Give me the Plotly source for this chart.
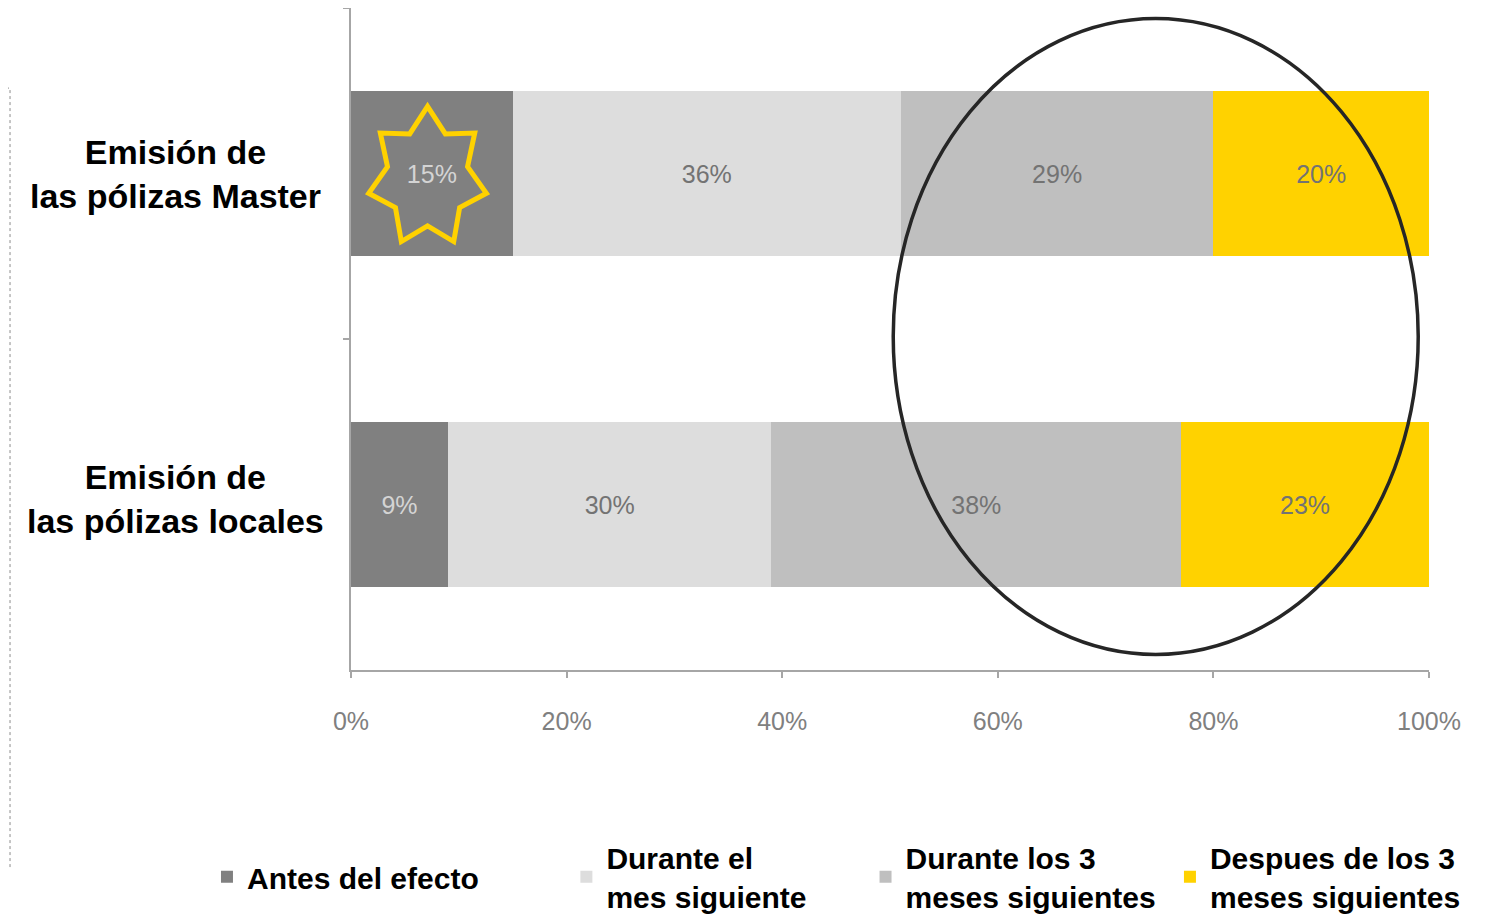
import math
import plotly.graph_objects as go

categories = ["Emisión de<br>las pólizas Master", "Emisión de<br>las pólizas locales"]
series_names = [
    "Antes del efecto",
    "Durante el<br>mes siguiente",
    "Durante los 3<br>meses siguientes",
    "Despues de los 3<br>meses siguientes",
]
antes = [15, 9]
mes_siguiente = [36, 30]
tres_meses = [29, 38]
despues = [20, 23]
x_ticks = [0, 20, 40, 60, 80, 100]

series_values = [antes, mes_siguiente, tres_meses, despues]
colors = ["#808080", "#DDDDDD", "#BFBFBF", "#FFD200"]
text_colors = ["#D4D4D4", "#737373", "#737373", "#737373"]
legend_ids = ["legend", "legend2", "legend3", "legend4"]
legend_x = [-0.1336, 0.1998, 0.4773, 0.7597]

font_reg = "Liberation Sans, Arial, sans-serif"

fig = go.Figure()
for name, vals, col, tcol, lg in zip(series_names, series_values, colors, text_colors, legend_ids):
    fig.add_trace(go.Bar(
        x=vals,
        y=categories,
        orientation="h",
        name=name,
        legend=lg,
        marker=dict(color=col, line=dict(width=0)),
        text=[f"{v}%" for v in vals],
        textposition="inside",
        insidetextanchor="middle",
        textfont=dict(family=font_reg, size=25, color=tcol),
    ))

# category labels, centred in the left margin
for cat, shift in zip(categories, [0, 6]):
    fig.add_annotation(
        x=-0.163, xref="paper", y=cat, yref="y", yshift=shift,
        text=f"<b>{cat}</b>", showarrow=False, xanchor="center", align="center",
        font=dict(family=font_reg, size=34, color="black"),
    )

# ellipse highlighting the later periods
fig.add_shape(type="circle", xref="x", yref="y",
              x0=50.3, x1=99.0, y0=-0.468, y1=1.453,
              line=dict(color="#262626", width=3.5))

# seven-pointed star around the first value
cx, cy, rx, ry, inner = 7.1, 0.012, 5.6, 0.215, 0.68
pts = []
for k in range(14):
    ang = math.pi / 2 + k * math.pi / 7
    r = 1.0 if k % 2 == 0 else inner
    pts.append((cx + rx * r * math.cos(ang), cy - ry * r * math.sin(ang)))
path = "M " + " L ".join(f"{px:.3f},{py:.4f}" for px, py in pts) + " Z"
fig.add_shape(type="path", xref="x", yref="y", path=path,
              line=dict(color="#FFD200", width=5))

# dotted frame edge on the far left
fig.add_shape(type="path", xref="paper", yref="paper",
              path="M -0.3256,0.879 L -0.3163,0.879 L -0.3163,-0.302",
              line=dict(color="#8C8C8C", width=1, dash="dot"))

legend_font = dict(family=font_reg, size=30, color="black", weight="bold")
legends = {}
for lg, lx in zip(legend_ids, legend_x):
    legends[lg] = dict(
        orientation="h", x=lx, xanchor="left",
        yref="container", y=0.041, yanchor="middle",
        font=legend_font, bgcolor="rgba(0,0,0,0)",
    )

fig.update_layout(
    width=1491, height=906,
    margin=dict(l=343, r=70, t=0, b=244),
    barmode="stack",
    bargap=0.5,
    plot_bgcolor="white",
    paper_bgcolor="white",
    showlegend=True,
    xaxis=dict(
        range=[0, 100],
        tickvals=x_ticks,
        ticktext=[f"{t}%" for t in x_ticks],
        showgrid=False, zeroline=False,
        showline=True, linecolor="#A6A6A6", linewidth=2,
        ticks="outside", ticklen=6, tickcolor="#A6A6A6", tickwidth=2,
        tickfont=dict(family=font_reg, size=25, color="#808080"),
        ticklabelstandoff=22,
    ),
    yaxis=dict(
        categoryorder="array", categoryarray=categories,
        autorange="reversed",
        showticklabels=False, showgrid=False, zeroline=False,
        showline=True, linecolor="#A6A6A6", linewidth=2,
        ticks="outside", ticklen=6, tickcolor="#A6A6A6", tickwidth=2,
        tickson="boundaries",
    ),
    **legends,
)

fig.write_html("out.html")
